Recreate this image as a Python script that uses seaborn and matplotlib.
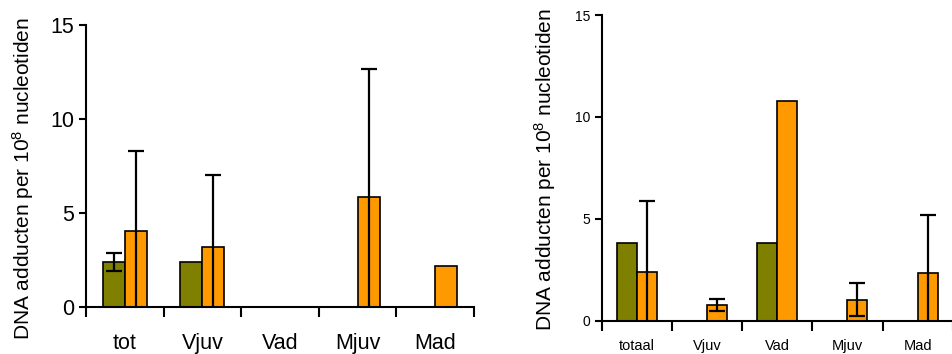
import numpy as np
import pandas as pd
import seaborn as sns
import matplotlib.pyplot as plt

# left panel
left_cats = ['tot', 'Vjuv', 'Vad', 'Mjuv', 'Mad']
left_green = [2.4, 2.4, 0, 0, 0]
left_green_err = [0.48, 0, 0, 0, 0]
left_orange = [4.05, 3.17, 0, 5.83, 2.2]
left_orange_err = [4.25, 3.87, 0, 6.83, 0]

# right panel
right_cats = ['totaal', 'Vjuv', 'Vad', 'Mjuv', 'Mad']
right_green = [3.8, 0, 3.8, 0, 0]
right_green_err = [0, 0, 0, 0, 0]
right_orange = [2.4, 0.77, 10.77, 1.03, 2.32]
right_orange_err = [3.47, 0.3, 0, 0.82, 2.87]

groups = ['A', 'B']
colors = ['#808000', '#FF9900']
ylabel = 'DNA adducten per 10$^8$ nucleotiden'

sns.set_style('white')
plt.rcParams['font.family'] = ['Liberation Sans', 'DejaVu Sans']
plt.rcParams['mathtext.default'] = 'regular'
plt.rcParams.update({
    'text.color': 'black',
    'axes.labelcolor': 'black',
    'xtick.color': 'black',
    'ytick.color': 'black',
})


def panel(ax, cats, green, green_err, orange, orange_err, tick_fs, xlab_fs, lab_fs, xlab_pad, labpos):
    df = pd.DataFrame({
        'cat': cats * 2,
        'val': green + orange,
        'grp': [groups[0]] * len(cats) + [groups[1]] * len(cats),
    })
    sns.barplot(data=df, x='cat', y='val', hue='grp', palette=colors, width=0.57,
                errorbar=None, edgecolor='black', linewidth=1.2, saturation=1,
                legend=False, ax=ax)
    for cont, errs in zip(ax.containers, [green_err, orange_err]):
        for bar, e in zip(cont, errs):
            if e > 0:
                ax.errorbar(bar.get_x() + bar.get_width() / 2, bar.get_height(), yerr=e,
                            fmt='none', ecolor='black', elinewidth=1.6, capsize=6,
                            capthick=1.6, zorder=5)
    ax.set_ylim(0, 15)
    ax.set_xlim(-0.5, len(cats) - 0.5)
    ax.set_yticks([0, 5, 10, 15])
    ax.set_xticks(np.arange(len(cats) + 1) - 0.5)
    ax.set_xticklabels([])
    ax.set_xticks(np.arange(len(cats)), minor=True)
    ax.set_xticklabels(cats, minor=True, fontsize=xlab_fs)
    ax.tick_params(axis='x', which='major', direction='out', length=7, width=1.5, color='black')
    ax.tick_params(axis='x', which='minor', length=0, pad=xlab_pad)
    ax.tick_params(axis='y', direction='out', length=5, width=1.5, color='black',
                   labelsize=tick_fs, left=True)
    ax.tick_params(bottom=True)
    for s in ['top', 'right']:
        ax.spines[s].set_visible(False)
    for s in ['left', 'bottom']:
        ax.spines[s].set_color('black')
        ax.spines[s].set_linewidth(1.5)
    ax.set_xlabel('')
    ax.set_ylabel(ylabel, fontsize=lab_fs)
    ax.yaxis.set_label_coords(*labpos)


fig = plt.figure(figsize=(9.53, 3.54), dpi=100)
ax1 = fig.add_axes([0.0902, 0.1328, 0.4072, 0.7966])
ax2 = fig.add_axes([0.6314, 0.094, 0.3683, 0.8636])

panel(ax1, left_cats, left_green, left_green_err, left_orange, left_orange_err,
      15.5, 15.5, 15, 19, (-0.13, 0.457))
panel(ax2, right_cats, right_green, right_green_err, right_orange, right_orange_err,
      10, 10.5, 15, 13, (-0.125, 0.493))

fig.savefig('out.png', dpi=100)
